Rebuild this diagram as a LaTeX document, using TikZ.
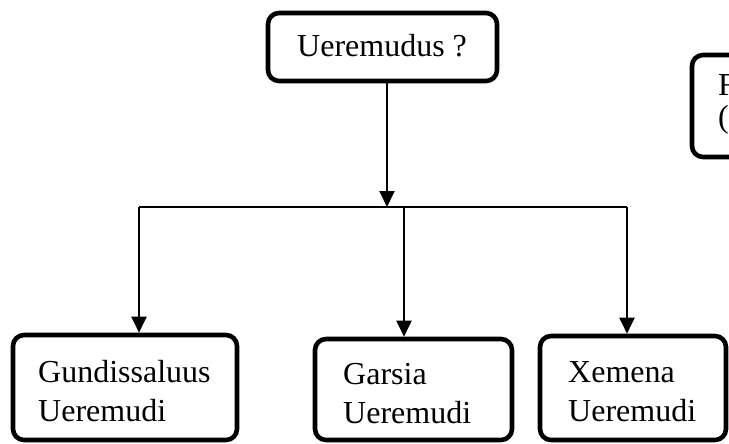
\documentclass[tikz,border=0pt]{standalone}
\usepackage{fontspec}
\setmainfont{Liberation Serif}
\usetikzlibrary{arrows.meta,calc}

\begin{document}
\begin{tikzpicture}[x=1pt, y=-1pt,
    box/.style={draw, line width=4.6pt, rounded corners=11pt, inner sep=0pt},
    txt/.style={inner sep=0pt, anchor=north west, align=left,
                font=\fontsize{32}{39}\selectfont},
    link/.style={line width=1.8pt},
    arr/.style={-{Triangle[length=16pt, width=15pt]}, line width=2pt},
]
\useasboundingbox (0,0) rectangle (729,444);

% Boxes
\node[box, minimum width=229pt, minimum height=68pt] (ques) at (382.5,47) {};
\node[box, minimum width=240pt, minimum height=102pt] (ferd) at (812,106) {};
\node[box, minimum width=224pt, minimum height=105pt] (gund) at (125,387.5) {};
\node[box, minimum width=197pt, minimum height=101pt] (gars) at (413.5,389.5) {};
\node[box, minimum width=186pt, minimum height=104pt] (xem) at (633,388) {};

% Texts
\node[txt, anchor=base west] (quest) at (297,57) {Ueremudus ?};
\node[txt, font=\fontsize{32}{32}\selectfont] (ferdt) at (718,74) {F\\(c};
\node[txt] (gundt) at (38,360) {Gundissaluus\\Ueremudi};
\node[txt] (garst) at (343,363) {Garsia\\Ueremudi};
\node[txt] (xemt) at (568,361) {Xemena\\Ueremudi};

% Branch bar
\coordinate (barL) at (139,207);
\coordinate (barR) at (627,207);
\coordinate (barM) at (404,207);
\coordinate (jn) at (387,207);
\draw[link] (barL) -- (barR);

% Arrows
\draw[arr] (ques.south -| jn) -- (jn);
\foreach \c/\b in {barL/gund, barM/gars, barR/xem}
    \draw[arr] (\c) -- (\b.north -| \c);

\end{tikzpicture}
\end{document}
